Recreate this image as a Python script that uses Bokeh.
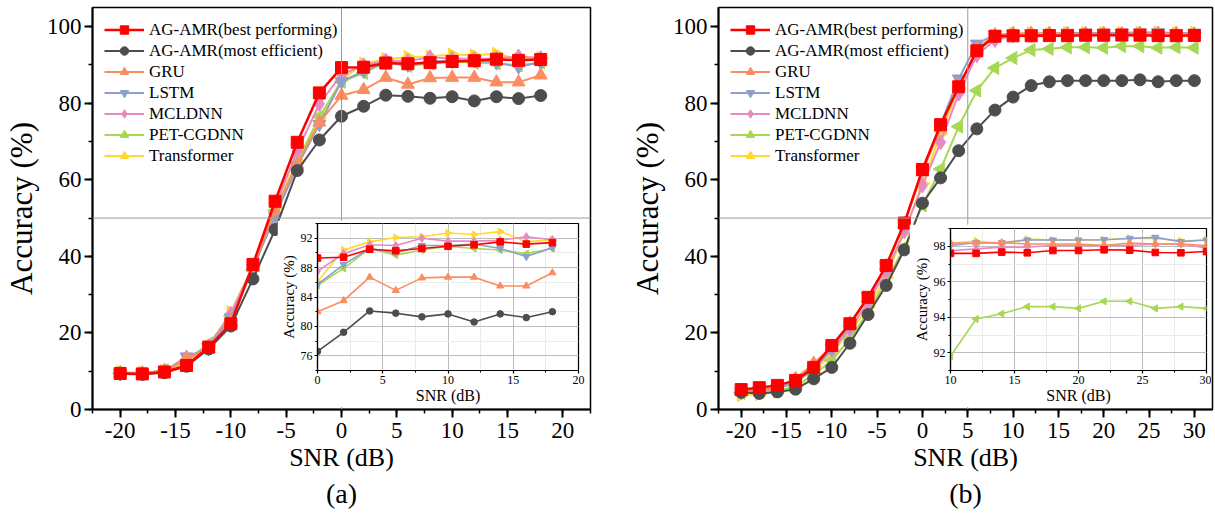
import math
from bokeh.plotting import figure
from bokeh.models import (Range1d, SingleIntervalTicker, Span, Legend, LegendItem,
                          Title, GridBox, CustomJSTickFormatter)
from bokeh.embed import file_html
from bokeh.resources import INLINE

FONT = "Liberation Serif"

# ---------------- data ----------------
snr_a = [-20, -18, -16, -14, -12, -10, -8, -6, -4, -2, 0, 2, 4, 6, 8, 10, 12, 14, 16, 18]
best_a = [9.4, 9.3, 9.8, 11.5, 16.3, 22.4, 37.9, 54.4, 69.8, 82.7, 89.3, 89.4, 90.5, 90.3, 90.6, 90.9, 91.1, 91.5, 91.2, 91.4]
eff_a = [9.3, 9.2, 9.6, 11.3, 15.8, 21.8, 34.1, 47.0, 62.4, 70.4, 76.6, 79.2, 82.1, 81.8, 81.3, 81.7, 80.6, 81.7, 81.2, 82.0]
gru_a = [9.5, 9.3, 9.9, 13.6, 15.8, 23.0, 37.0, 52.0, 64.0, 75.0, 82.0, 83.5, 86.7, 84.9, 86.6, 86.7, 86.7, 85.5, 85.5, 87.3]
lstm_a = [9.4, 9.4, 10.0, 13.8, 16.0, 24.0, 37.0, 50.5, 63.5, 74.5, 85.7, 88.4, 90.6, 90.0, 91.0, 91.0, 91.2, 90.6, 89.5, 90.7]
mcl_a = [9.6, 9.5, 10.2, 12.8, 16.5, 25.0, 37.5, 53.0, 67.5, 79.8, 87.5, 89.9, 91.1, 91.0, 92.0, 91.6, 91.6, 91.7, 92.2, 91.8]
pet_a = [9.5, 9.4, 10.3, 12.8, 17.2, 24.5, 36.5, 52.0, 64.5, 76.5, 85.6, 87.9, 90.6, 89.7, 90.4, 90.9, 90.6, 90.4, 89.9, 90.6]
trans_a = [9.8, 9.6, 10.1, 12.0, 16.5, 25.5, 37.5, 52.5, 65.0, 76.0, 86.1, 90.4, 91.5, 92.1, 92.2, 92.7, 92.5, 92.9, 91.5, 91.8]

snr_b = [-20, -18, -16, -14, -12, -10, -8, -6, -4, -2, 0, 2, 4, 6, 8, 10, 12, 14, 16, 18, 20, 22, 24, 26, 28, 30]
best_b = [5.2, 5.7, 6.3, 7.6, 11.0, 16.7, 22.4, 29.3, 37.6, 48.7, 62.7, 74.4, 84.3, 93.7, 97.5,
          97.6, 97.6, 97.67, 97.63, 97.76, 97.76, 97.8, 97.78, 97.65, 97.63, 97.7]
eff_b = [4.5, 4.2, 4.6, 5.3, 8.0, 11.0, 17.3, 24.8, 32.4, 41.7, 53.9, 60.5, 67.6, 73.3, 78.2,
         81.6, 84.6, 85.6, 85.9, 85.9, 85.9, 85.9, 86.1, 85.6, 85.9, 85.9]
gru_b = [4.8, 5.2, 5.8, 8.0, 12.0, 16.5, 22.5, 29.0, 37.5, 48.5, 62.0, 73.5, 84.5, 94.0, 97.8,
         98.18, 98.18, 98.2, 98.13, 98.13, 98.13, 98.04, 98.18, 98.13, 98.13, 98.04]
lstm_b = [4.6, 5.0, 5.6, 7.0, 10.5, 16.0, 22.0, 29.5, 37.5, 48.5, 62.5, 74.5, 86.4, 95.5, 97.9,
          98.04, 98.2, 98.2, 98.35, 98.35, 98.35, 98.37, 98.44, 98.5, 98.26, 98.35]
mcl_b = [4.5, 4.9, 5.5, 7.2, 10.5, 15.5, 21.0, 28.0, 36.0, 46.5, 58.5, 69.8, 82.5, 92.5, 96.5,
         97.75, 97.85, 97.95, 97.95, 98.04, 98.04, 98.04, 98.04, 98.13, 98.13, 97.9]
pet_b = [4.3, 4.5, 5.0, 6.0, 9.0, 12.8, 18.5, 25.5, 33.5, 42.4, 53.3, 62.8, 73.9, 83.3, 89.2,
         91.8, 93.9, 94.2, 94.6, 94.6, 94.5, 94.9, 94.9, 94.5, 94.6, 94.5]
trans_b = [3.7, 4.0, 4.6, 5.8, 9.5, 15.0, 20.2, 26.7, 34.5, 46.3, 59.0, 72.0, 84.0, 94.5, 97.6,
           98.17, 98.3, 98.17, 98.4, 98.35, 98.35, 98.37, 98.46, 98.44, 98.3, 98.37]

names = ["AG-AMR(best performing)", "AG-AMR(most efficient)", "GRU", "LSTM", "MCLDNN",
         "PET-CGDNN", "Transformer"]
colors = ["#FF0000", "#4D4D4D", "#FC8D62", "#8DA0CB", "#E78AC3", "#A6D854", "#FFD92F"]
markers = ["square", "circle", "triangle", "inverted_triangle", "diamond", "triangle", "triangle"]
angles = [0, 0, 0, 0, 0, math.pi / 2, -math.pi / 2]
sizes = [12, 12, 13, 13, 15, 13, 13]

series_a = [best_a, eff_a, gru_a, lstm_a, mcl_a, pet_a, trans_a]
series_b = [best_b, eff_b, gru_b, lstm_b, mcl_b, pet_b, trans_b]

draw_order = [6, 5, 4, 3, 2, 1, 0]

plain = "return String(tick);"


def style_axis(ax, tick_px, label_px, major_out, minor_out, lw):
    ax.axis_line_color = "black"
    ax.axis_line_width = lw
    ax.major_tick_line_color = "black"
    ax.minor_tick_line_color = "black"
    ax.major_tick_line_width = lw
    ax.minor_tick_line_width = max(1, lw - 0.5)
    ax.major_tick_out = major_out
    ax.major_tick_in = 0
    ax.minor_tick_out = minor_out
    ax.minor_tick_in = 0
    ax.major_label_text_font = FONT
    ax.major_label_text_font_size = tick_px
    ax.major_label_text_color = "black"
    ax.axis_label_text_font = FONT
    ax.axis_label_text_font_size = label_px
    ax.axis_label_text_font_style = "normal"
    ax.axis_label_text_color = "black"
    ax.formatter = CustomJSTickFormatter(code=plain)


def make_main(snr, series, xr, vline, width, mbl, mbr, tag):
    p = figure(width=width, height=522, x_range=Range1d(*xr), y_range=Range1d(0, 105),
               output_backend="svg", toolbar_location=None,
               min_border_top=7, min_border_bottom=113, min_border_left=mbl, min_border_right=mbr)
    p.xgrid.visible = False
    p.ygrid.visible = False
    p.outline_line_color = "black"
    p.outline_line_width = 1.5
    p.outline_line_alpha = 1
    p.background_fill_color = "white"
    p.border_fill_color = "white"
    p.xaxis.ticker = SingleIntervalTicker(interval=5, num_minor_ticks=2)
    p.yaxis.ticker = SingleIntervalTicker(interval=20, num_minor_ticks=2)
    style_axis(p.xaxis[0], "23px", "26px", 8, 4, 2)
    style_axis(p.yaxis[0], "23px", "31px", 8, 4, 2)
    p.xaxis.major_label_standoff = 5
    p.yaxis.major_label_standoff = 3
    p.xaxis.axis_label_standoff = 2
    p.yaxis.axis_label_standoff = 5
    p.xaxis.axis_label = "SNR (dB)"
    p.yaxis.axis_label = "Accuracy (%)"

    p.add_layout(Span(location=vline, dimension="height", line_color="#9a9a9a", line_width=1))
    p.add_layout(Span(location=50, dimension="width", line_color="#9a9a9a", line_width=1))

    items = {}
    for i in draw_order:
        lw = 2.5 if i == 0 else 2
        rl = p.line(snr, series[i], line_color=colors[i], line_width=lw)
        rm = p.scatter(snr, series[i], marker=markers[i], size=sizes[i], angle=angles[i],
                       fill_color=colors[i], line_color=colors[i])
        items[i] = LegendItem(label=names[i], renderers=[rl, rm])
    legend = Legend(items=[items[i] for i in range(7)], location="top_left")
    legend.label_text_font = FONT
    legend.label_text_font_size = "17px"
    legend.label_text_color = "black"
    legend.glyph_width = 40
    legend.glyph_height = 21
    legend.spacing = 0
    legend.padding = 0
    legend.margin = 12
    legend.label_standoff = 5
    legend.border_line_alpha = 0
    legend.background_fill_alpha = 0
    p.add_layout(legend)

    p.add_layout(Title(text=tag, align="center", text_font=FONT, text_font_size="28px",
                       text_font_style="normal", text_color="black", standoff=2), "below")
    return p


def make_inset(snr, series, xmin, xr, yr, yint, width, height, mbl, mbr, mbt, mbb):
    p = figure(width=width, height=height, x_range=Range1d(*xr), y_range=Range1d(*yr),
               output_backend="svg", toolbar_location=None,
               min_border_left=mbl, min_border_right=mbr, min_border_top=mbt, min_border_bottom=mbb)
    p.outline_line_color = "black"
    p.outline_line_width = 1.2
    p.outline_line_alpha = 1
    p.background_fill_color = "white"
    p.border_fill_color = "white"
    xt = SingleIntervalTicker(interval=5, num_minor_ticks=2)
    yt = SingleIntervalTicker(interval=yint, num_minor_ticks=2)
    p.xaxis.ticker = xt
    p.yaxis.ticker = yt
    p.xgrid.ticker = xt
    p.ygrid.ticker = yt
    for g in (p.xgrid[0], p.ygrid[0]):
        g.grid_line_color = "#bdbdbd"
        g.grid_line_width = 1
        g.minor_grid_line_color = "#ebebeb"
        g.minor_grid_line_width = 1
    style_axis(p.xaxis[0], "12px", "16px", 3, 2, 1.2)
    style_axis(p.yaxis[0], "12px", "15px", 3, 2, 1.2)
    p.xaxis.major_label_standoff = 2
    p.yaxis.major_label_standoff = 2
    p.xaxis.axis_label_standoff = 0
    p.yaxis.axis_label_standoff = 1
    p.xaxis.axis_label = "SNR (dB)"
    p.yaxis.axis_label = "Accuracy (%)"

    xs = [x for x in snr if x >= xmin]
    k = len(snr) - len(xs)
    for i in draw_order:
        ys = series[i][k:]
        p.line(xs, ys, line_color=colors[i], line_width=1.6)
        p.scatter(xs, ys, marker=markers[i], size=max(6, sizes[i] * 0.55), angle=angles[i],
                  fill_color=colors[i], line_color=colors[i])
    return p


pa = make_main(snr_a, series_a, (-22.5, 22.5), 0, 600, 91, 10, "(a)")
pb = make_main(snr_b, series_b, (-22.5, 32.0), 5, 615, 118, 3, "(b)")
ia = make_inset(snr_a, series_a, 0, (0, 20), (74, 94), 4, 311, 187, 39, 10, 3, 37)
ib = make_inset(snr_b, series_b, 10, (10, 30), (91, 99), 2, 302, 183, 41, 5, 4, 36)

grid = GridBox(children=[(pa, 0, 0, 4, 3), (pb, 0, 3, 4, 3), (ia, 1, 1, 2, 1), (ib, 2, 4, 1, 1)],
               rows=["220px", "4px", "183px", "115px"],
               cols=["277px", "311px", "12px", "309px", "302px", "4px"],
               spacing=0)

open("out.html", "w").write(file_html(grid, INLINE))
